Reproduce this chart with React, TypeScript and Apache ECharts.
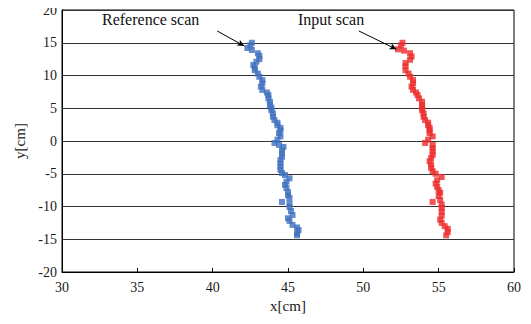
import React, { useEffect, useRef } from "react";
import * as echarts from "echarts";

const xTicks = [30, 35, 40, 45, 50, 55, 60];
const yTicks = [-20, -15, -10, -5, 0, 5, 10, 15, 20];

const referenceScan: [number, number][] = [
  [42.6, 15.0], [42.5, 14.6], [42.3, 14.2], [42.6, 13.9], [43.0, 13.4], [43.1, 13.0],
  [43.1, 12.5], [42.9, 12.1], [42.7, 11.6], [42.8, 11.2], [42.8, 10.8], [43.0, 10.3],
  [43.1, 9.8], [43.3, 9.3], [43.3, 8.8], [43.2, 8.3], [43.3, 7.8], [43.6, 7.4],
  [43.7, 7.0], [43.7, 6.5], [43.8, 6.0], [43.8, 5.5], [43.9, 5.1], [43.9, 4.7],
  [44.0, 4.2], [44.0, 3.7], [44.1, 3.2], [44.3, 2.8], [44.3, 2.4], [44.5, 2.0],
  [44.5, 1.6], [44.4, 1.2], [44.5, 0.7], [44.3, 0.2], [44.1, -0.3], [44.4, -0.6],
  [44.7, -0.9], [44.6, -1.4], [44.6, -1.9], [44.6, -2.4], [44.5, -2.9], [44.5, -3.4],
  [44.5, -3.9], [44.5, -4.4], [44.6, -4.9], [44.8, -5.2], [45.1, -5.7], [44.9, -6.2],
  [44.8, -6.7], [44.9, -7.2], [45.0, -7.8], [45.0, -8.3], [45.1, -8.7], [44.6, -9.3],
  [45.1, -9.6], [45.1, -10.1], [45.2, -10.7], [45.3, -11.3], [45.0, -11.8], [45.1, -12.2],
  [45.3, -12.8], [45.6, -13.2], [45.7, -13.6], [45.6, -14.1], [45.6, -14.4],
];

const inputScan: [number, number][] = [
  [52.6, 15.0], [52.5, 14.6], [52.3, 14.0], [52.7, 13.8], [53.1, 13.4], [53.2, 12.9],
  [53.1, 12.4], [52.8, 11.9], [52.8, 11.4], [52.8, 10.8], [53.0, 10.3], [53.1, 9.8],
  [53.3, 9.3], [53.3, 8.8], [53.2, 8.3], [53.3, 7.8], [53.5, 7.4], [53.6, 7.0],
  [53.7, 6.5], [53.9, 6.0], [53.9, 5.5], [53.9, 5.1], [53.9, 4.7], [54.0, 4.2],
  [54.0, 3.7], [54.1, 3.2], [54.3, 2.8], [54.3, 2.4], [54.4, 2.0], [54.4, 1.6],
  [54.4, 1.2], [54.6, 0.7], [54.3, 0.2], [54.1, -0.3], [54.6, -0.6], [54.6, -1.1],
  [54.6, -1.6], [54.6, -2.1], [54.5, -2.6], [54.4, -3.1], [54.5, -3.6], [54.5, -4.1],
  [54.6, -4.6], [54.8, -5.0], [55.2, -5.5], [54.9, -6.0], [54.8, -6.5], [54.9, -7.0],
  [55.0, -7.5], [55.1, -7.9], [55.0, -8.4], [55.1, -9.0], [54.6, -9.3], [55.2, -9.7],
  [55.2, -10.2], [55.2, -10.8], [55.2, -11.4], [55.1, -12.0], [55.2, -12.5], [55.4, -13.0],
  [55.6, -13.4], [55.6, -13.9], [55.5, -14.4],
];

const annotations = [
  { text: "Reference scan", from: [40.3, 16.8], to: [42.1, 14.5] },
  { text: "Input scan", from: [49.7, 16.8], to: [52.2, 14.0] },
];

const FONT = "Liberation Serif";

export default function App() {
  const ref = useRef<HTMLDivElement>(null);
  useEffect(() => {
    if (!ref.current) return;
    const chart = echarts.init(ref.current, null, { renderer: "svg" });
    const labelStyle = { fontFamily: FONT, fontSize: 14, color: "#1a1a1a" };
    chart.setOption({
      animation: false,
      textStyle: { fontFamily: FONT },
      grid: {
        left: 62,
        right: 17,
        top: 10,
        bottom: 52,
        show: true,
        borderColor: "#000",
        borderWidth: 1,
      },
      xAxis: {
        type: "value",
        min: xTicks[0],
        max: xTicks[xTicks.length - 1],
        interval: 5,
        name: "x[cm]",
        nameLocation: "middle",
        nameGap: 20,
        nameTextStyle: { fontFamily: FONT, fontSize: 15, color: "#1a1a1a" },
        axisLine: { onZero: false, lineStyle: { color: "#000", width: 1 } },
        axisTick: { show: true, inside: true, length: 4, lineStyle: { color: "#000" } },
        axisLabel: { ...labelStyle, margin: 8 },
        splitLine: { show: false },
      },
      yAxis: {
        type: "value",
        min: yTicks[0],
        max: yTicks[yTicks.length - 1],
        interval: 5,
        name: "y[cm]",
        nameLocation: "middle",
        nameGap: 33,
        nameTextStyle: { fontFamily: FONT, fontSize: 15, color: "#1a1a1a" },
        axisLine: { show: true, onZero: false, lineStyle: { color: "#000", width: 1 } },
        axisTick: { show: false },
        axisLabel: { ...labelStyle, margin: 5 },
        splitLine: { show: true, lineStyle: { color: "#333", width: 1 } },
      },
      series: [
        {
          name: "Reference scan",
          type: "scatter",
          data: referenceScan,
          symbol: "rect",
          symbolSize: 6,
          itemStyle: { color: "#3F6FBF" },
          markLine: {
            silent: true,
            symbol: ["none", "arrow"],
            symbolSize: [5, 7],
            label: { show: false },
            lineStyle: { color: "#000", width: 1, type: "solid" },
            data: [[{ coord: annotations[0].from }, { coord: annotations[0].to }]],
          },
        },
        {
          name: "Input scan",
          type: "scatter",
          data: inputScan,
          symbol: "rect",
          symbolSize: 6,
          itemStyle: { color: "#EE2A2A" },
          markLine: {
            silent: true,
            symbol: ["none", "arrow"],
            symbolSize: [5, 7],
            label: { show: false },
            lineStyle: { color: "#000", width: 1, type: "solid" },
            data: [[{ coord: annotations[1].from }, { coord: annotations[1].to }]],
          },
        },
      ],
      graphic: [
        {
          type: "text",
          left: 102,
          top: 11,
          style: { text: annotations[0].text, fontFamily: FONT, fontSize: 16, fill: "#111" },
        },
        {
          type: "text",
          left: 298,
          top: 11,
          style: { text: annotations[1].text, fontFamily: FONT, fontSize: 16, fill: "#111" },
        },
      ],
    });
    return () => chart.dispose();
  }, []);
  return <div ref={ref} style={{ width: 531, height: 324, margin: -8 }} />;
}
